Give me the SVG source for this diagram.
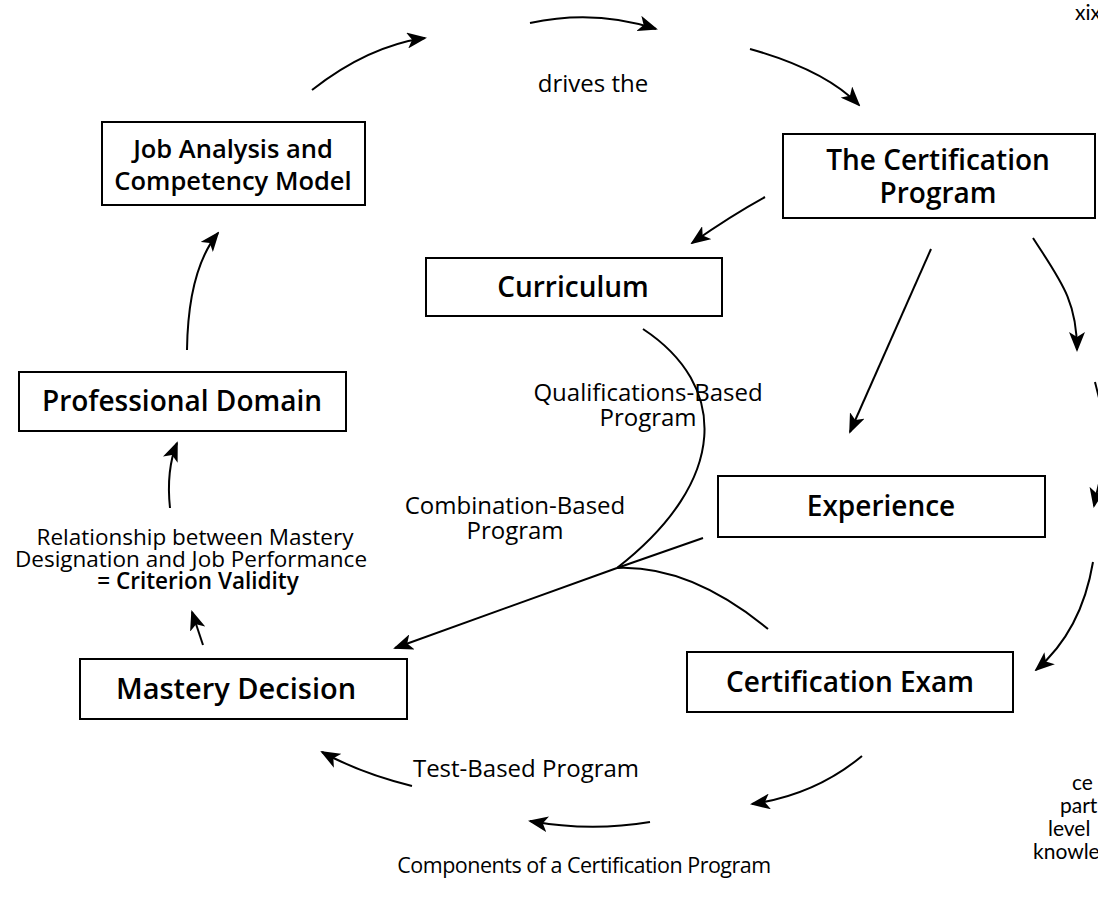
<svg xmlns="http://www.w3.org/2000/svg" width="1098" height="903" viewBox="0 0 1098 903">
  <style>
    .box { fill: #fff; stroke: #000; stroke-width: 2; }
    .lbl { font-family: "Open Sans", "Liberation Sans", sans-serif; font-weight: 600; font-size: 28px; fill: #000; text-anchor: middle; }
    .cap { font-family: "Open Sans", "Liberation Sans", sans-serif; font-weight: 500; font-size: 24px; fill: #000; text-anchor: middle; }
    .note { font-family: "Open Sans", "Liberation Sans", sans-serif; font-weight: 400; font-size: 22.5px; fill: #000; text-anchor: middle; }
    .side { font-family: "Lato", "Liberation Sans", sans-serif; font-weight: 400; font-size: 21px; fill: #000; }
    .wire { fill: none; stroke: #000; stroke-width: 2; }
    .arr { marker-end: url(#ah); }
  </style>
  <defs>
    <marker id="ah" markerWidth="20" markerHeight="16" refX="18" refY="8" orient="auto" markerUnits="userSpaceOnUse">
      <path d="M0,0 L20,8 L0,16 L5,8 z" fill="#000"/>
    </marker>
  </defs>
  <rect width="1098" height="903" fill="#fff"/>

  <!-- page furniture cut at the right margin -->
  <text class="side" x="1075" y="20">xix</text>
  <text class="side" x="1072" y="790">ce</text>
  <text class="side" x="1060" y="813">part</text>
  <text class="side" x="1048" y="836">level</text>
  <text class="side" x="1033" y="859">knowle</text>

  <g id="connectors">
    <!-- top cycle -->
    <path class="wire arr" d="M312,90 Q368,46 425,38"/>
    <path class="wire arr" d="M530,23 Q595,9 656,29"/>
    <path class="wire arr" d="M750,49 Q825,70 859,105"/>
    <!-- certification program branches -->
    <path class="wire arr" d="M765,197 Q732,215 692,243"/>
    <path class="wire arr" d="M931,249 L850,432"/>
    <!-- right side arcs -->
    <path class="wire arr" d="M1033,238 C1060,280 1077,300 1077,350"/>
    <path class="wire" d="M1095,382 L1100,402"/>
    <path class="wire arr" d="M1112,440 Q1100,475 1094,506"/>
    <path class="wire arr" d="M1093,562 C1085,610 1065,645 1036,670"/>
    <!-- bottom arcs -->
    <path class="wire arr" d="M862,756 Q815,795 752,804"/>
    <path class="wire arr" d="M650,822 Q590,832 530,821"/>
    <path class="wire arr" d="M412,786 Q360,773 322,752"/>
    <!-- left side -->
    <path class="wire arr" d="M203,645 L192,612"/>
    <path class="wire arr" d="M170,508 Q166,470 177,443"/>
    <path class="wire arr" d="M187,350 Q188,270 218,233"/>
    <!-- program routes meeting at the junction -->
    <path class="wire" d="M643,329 C728,385 730,480 617,568"/>
    <path class="wire" d="M617,568 L703,538"/>
    <path class="wire" d="M617,568 Q690,565 768,629"/>
    <path class="wire arr" d="M617,568 L395,648"/>
  </g>

  <g id="job-analysis">
    <rect class="box" x="102" y="122" width="263" height="83"/>
    <text class="lbl" x="233" y="158" style="font-size:25.5px">Job Analysis and</text>
    <text class="lbl" x="233" y="190" style="font-size:25.5px">Competency Model</text>
  </g>
  <g id="certification-program">
    <rect class="box" x="783" y="134" width="312" height="84"/>
    <text class="lbl" x="938" y="170">The Certification</text>
    <text class="lbl" x="938" y="203">Program</text>
  </g>
  <g id="curriculum">
    <rect class="box" x="426" y="258" width="296" height="58"/>
    <text class="lbl" x="573" y="297">Curriculum</text>
  </g>
  <g id="professional-domain">
    <rect class="box" x="19" y="372" width="327" height="59"/>
    <text class="lbl" x="182" y="411">Professional Domain</text>
  </g>
  <g id="experience">
    <rect class="box" x="718" y="476" width="327" height="61"/>
    <text class="lbl" x="881" y="516">Experience</text>
  </g>
  <g id="certification-exam">
    <rect class="box" x="687" y="652" width="326" height="60"/>
    <text class="lbl" x="850" y="692">Certification Exam</text>
  </g>
  <g id="mastery-decision">
    <rect class="box" x="80" y="659" width="327" height="60"/>
    <text class="lbl" x="236" y="699" style="font-size:29px">Mastery Decision</text>
  </g>

  <g id="labels">
    <text class="cap" x="593" y="92">drives the</text>
    <text class="cap" x="648" y="401">Qualifications-Based</text>
    <text class="cap" x="648" y="426">Program</text>
    <text class="cap" x="515" y="514">Combination-Based</text>
    <text class="cap" x="515" y="539">Program</text>
    <text class="note" x="195" y="545">Relationship between Mastery</text>
    <text class="note" x="191" y="567">Designation and Job Performance</text>
    <text class="note" x="198" y="589"><tspan font-weight="600">= Criterion Validity</tspan></text>
    <text class="cap" x="526" y="777">Test-Based Program</text>
    <text class="cap" x="584" y="873" style="font-size:21.5px;letter-spacing:-0.5px">Components of a Certification Program</text>
  </g>
</svg>
